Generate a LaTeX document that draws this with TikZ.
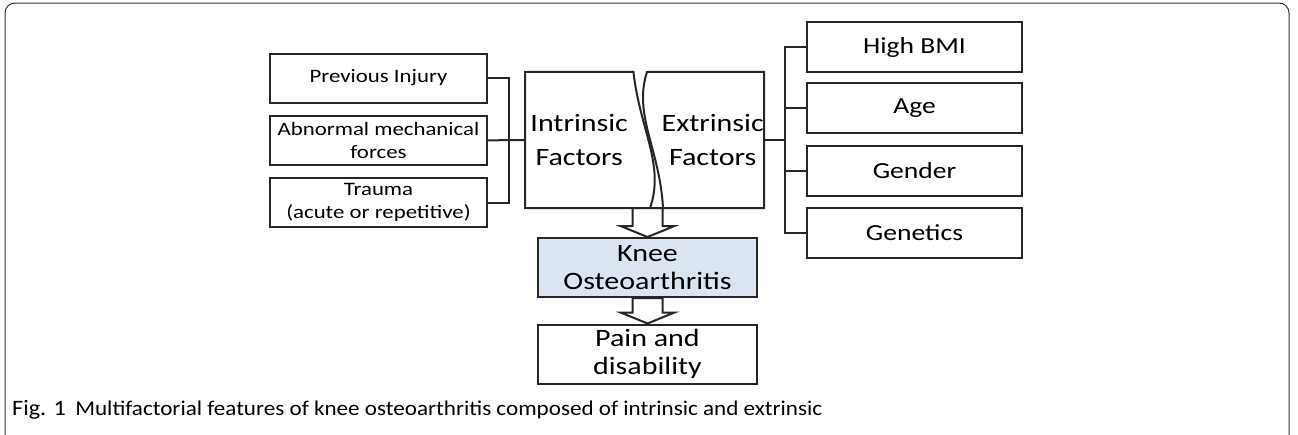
\documentclass[tikz,border=0pt]{standalone}
\usepackage{fontspec}
\setmainfont{Carlito}[FakeStretch=1.2]
\newfontfamily\capfont{Carlito}[FakeStretch=1.1]
\usetikzlibrary{calc, positioning}
\definecolor{kneeblue}{RGB}{220,230,242}
\def\leftx{378.5}
\def\rightx{914.5}

\begin{document}
\begin{tikzpicture}[x=1pt, y=1pt]
    \tikzstyle{link}=[draw=black!85, line width=2pt]
    \tikzstyle{factor}=[rectangle, draw=black!85, line width=2pt, minimum width=217pt, minimum height=49pt, inner sep=0pt, align=center, font=\fontsize{19}{23}\selectfont]
    \tikzstyle{risk}=[factor, minimum width=215pt, minimum height=50pt, font=\fontsize{23}{26}\selectfont]
    \tikzstyle{group}=[rectangle, minimum height=136pt, inner sep=0pt, align=center, font=\fontsize{25}{34}\selectfont]
    \tikzstyle{outcome}=[factor, minimum width=219pt, minimum height=59pt, font=\fontsize{25}{28.5}\selectfont]
    \tikzstyle{half}=[draw=black!85, line width=2pt]
    \tikzstyle{hollow}=[half, fill=white]

    % Page size and the frame round it
    \useasboundingbox (0,0) rectangle (1298,-434);
    \clip (0,0) rectangle (1298,-434);
    \draw[black!80, line width=1pt, rounded corners=10pt] (5,-3) rectangle (1289,-450);

    % Draw the intrinsic factor nodes
    \node[factor] (prev) at (\leftx,-78) {Previous Injury};
    \node[factor] (abn) at (\leftx,-140.5) {Abnormal mechanical\\forces};
    \node[factor] (trauma) at (\leftx,-202.5) {Trauma\\(acute or repetitive)};

    % Draw the extrinsic factor nodes
    \foreach \name/\txt/\y in {bmi/High BMI/47, age/Age/108, gender/Gender/171, genetics/Genetics/233}
        \node[risk] (\name) at (\rightx,-\y) {\txt};

    % The two halves in the middle
    \node[group, minimum width=108pt, anchor=west] (intr) at (525,-140) {Intrinsic\\Factors};
    \node[group, minimum width=98pt, anchor=east] (extr) at (764,-140) {Extrinsic\\Factors};
    \draw[half] (intr.north east) -- (intr.north west) -- (intr.south west) -- (650,-208)
        .. controls (665,-165) and (640,-130) .. (intr.north east) -- cycle;
    \draw[half] (647,-72) -- (extr.north east) -- (extr.south east) -- (663,-208)
        .. controls (660,-150) and (633,-115) .. (647,-72) -- cycle;

    % Connect the intrinsic factors
    \coordinate (lbus) at (509,-140);
    \draw[link] (prev.east) -| (lbus);
    \draw[link] (trauma.east) -| (lbus);
    \draw[link] (abn.east) -- (lbus) -- (intr.west);

    % Connect the extrinsic factors
    \coordinate (rbus) at (785,-140);
    \draw[link] (extr.east) -- (rbus);
    \foreach \name in {bmi,age,gender,genetics}
        \draw[link] (rbus) |- (\name.west);

    % Knee and what follows
    \node[outcome, fill=kneeblue] (knee) at (647.5,-267.5) {Knee\\Osteoarthritis};
    \node[outcome] (pain) at (647.5,-354) {Pain and\\disability};

    % Hollow arrows
    \coordinate (split) at (647.5,-208);
    \draw[hollow] (knee.north) -- ++(-27,11) -- ++(12,0) -- ($(split)+(-15,0)$)
        -- ($(split)+(15,0)$) -- ($(knee.north)+(15,11)$) -- ++(12,0) -- cycle;
    \draw[hollow] (pain.north) -- ++(-27,11) -- ++(12,0) -- ($(knee.south)+(-15,0)$)
        -- ($(knee.south)+(15,0)$) -- ($(pain.north)+(15,11)$) -- ++(12,0) -- cycle;

    % Caption
    \node[anchor=base west, inner sep=0pt, font=\capfont\fontsize{22}{24}\selectfont] (fig) at (12,-415) {Fig. 1};
    \node[base right=9pt of fig, inner sep=0pt, font=\capfont\fontsize{21}{24}\selectfont] (caption)
        {Multifactorial features of knee osteoarthritis composed of intrinsic and extrinsic};
\end{tikzpicture}
\end{document}
